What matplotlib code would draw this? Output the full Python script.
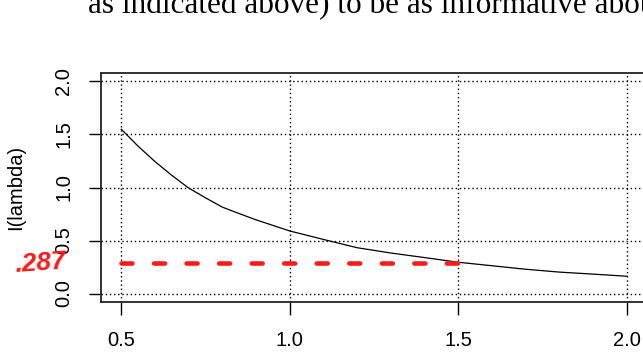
import numpy as np
from matplotlib import pyplot as plt

# values
LAMBDA = [0.5, 0.55, 0.6, 0.65, 0.7, 0.75, 0.8, 0.85, 0.9, 1.0, 1.1, 1.2, 1.3,
          1.4, 1.5, 1.6, 1.7, 1.8, 1.9, 2.0]
I_LAMBDA = [1.55, 1.39, 1.245, 1.115, 0.995, 0.903, 0.815, 0.754, 0.695, 0.59,
            0.51, 0.432, 0.382, 0.339, 0.295, 0.262, 0.229, 0.202, 0.183, 0.163]

# hand-drawn red reference level
RED_X = [0.5, 1.5]
RED_LEVEL = 0.287
RED_LABEL = ".287"

X_TICKS = [0.5, 1.0, 1.5, 2.0]
Y_TICKS = [0.0, 0.5, 1.0, 1.5, 2.0]

TOP_TEXT = "as indicated above) to be as informative about"

plt.rcParams["font.family"] = ["Liberation Sans", "DejaVu Sans"]


def main() -> None:
    fig = plt.figure(figsize=(6.43, 3.56), dpi=100)
    ax = fig.add_axes([101 / 643, 54 / 356, 546 / 643, 229 / 356])

    ax.set_xlim(0.44, 2.06)
    ax.set_ylim(-0.08, 2.08)

    ax.set_xticks(X_TICKS)
    ax.set_xticklabels([f"{t:.1f}" for t in X_TICKS])
    ax.set_yticks(Y_TICKS)
    ax.set_yticklabels([f"{t:.1f}" for t in Y_TICKS], rotation=90, va="center")

    ax.tick_params(axis="both", length=9, width=1, labelsize=14.5, color="black")
    ax.tick_params(axis="x", pad=12)
    ax.tick_params(axis="y", pad=11)

    ax.grid(True, color="black", linestyle=(0, (1, 2)), linewidth=1)
    ax.set_axisbelow(True)
    for sp in ax.spines.values():
        sp.set_linewidth(1.3)
        sp.set_color("#222222")

    ax.plot(LAMBDA, I_LAMBDA, color="black", linewidth=0.9)

    # dash period chosen so the last dash lands on 1.5
    ax.plot(RED_X, [RED_LEVEL, RED_LEVEL], color="#ff1a1a", linewidth=3.3,
            dashes=(2.4, 4.7), solid_capstyle="round", dash_capstyle="round")

    ax.set_ylabel("I(lambda)", fontsize=14.5)
    ax.yaxis.set_label_coords(-0.139, 0.5)

    fig.text(40 / 643, 1 - 263 / 356, RED_LABEL, color="#ff1a1a", fontsize=19,
             fontweight="bold", fontstyle="italic", ha="center", va="center",
             rotation=4)

    fig.text(88 / 643, 1 - 13 / 356, TOP_TEXT, family="Liberation Serif",
             fontsize=22.5, va="baseline", ha="left")

    plt.savefig("out.png", dpi=100)


if __name__ == "__main__":
    main()
